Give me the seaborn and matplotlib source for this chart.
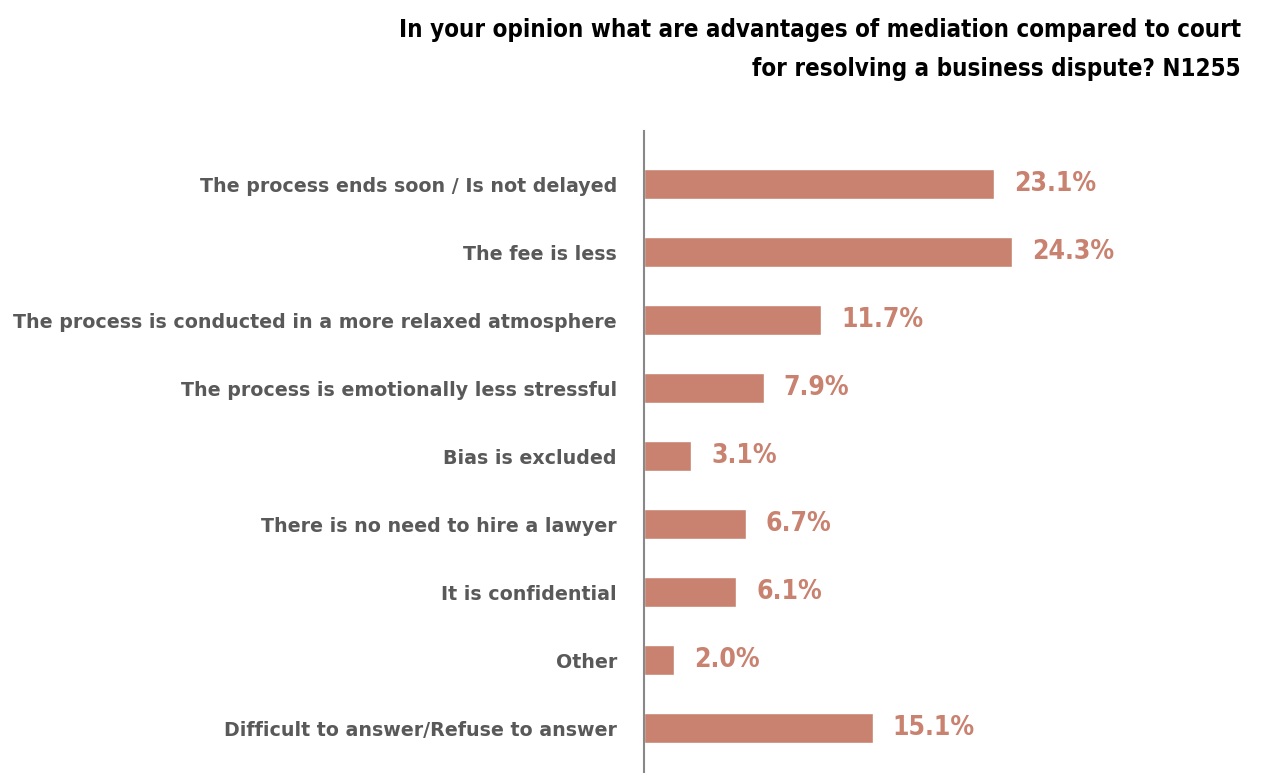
import matplotlib
matplotlib.use("Agg")
import matplotlib.pyplot as plt
import seaborn as sns
import pandas as pd

categories = [
    "The process ends soon / Is not delayed",
    "The fee is less",
    "The process is conducted in a more relaxed atmosphere",
    "The process is emotionally less stressful",
    "Bias is excluded",
    "There is no need to hire a lawyer",
    "It is confidential",
    "Other",
    "Difficult to answer/Refuse to answer",
]
shares = [23.1, 24.3, 11.7, 7.9, 3.1, 6.7, 6.1, 2.0, 15.1]

title = ("In your opinion what are advantages of mediation compared to court\n"
         "for resolving a business dispute? N1255")

bar_color = "#C8826F"
label_color = "#595959"

sns.set_theme(style="white")
plt.rcParams["font.family"] = ["DejaVu Sans"]

df = pd.DataFrame({"category": categories, "share": shares})

W, H = 1271, 773
fig = plt.figure(figsize=(W / 100, H / 100), dpi=100)
ax_left, ax_top, ax_bottom = 644, 131, 773
px_per_unit = 15.15
xmax = 30
ax = fig.add_axes([ax_left / W, (H - ax_bottom) / H,
                   xmax * px_per_unit / W, (ax_bottom - ax_top) / H])

sns.barplot(data=df, x="share", y="category", orient="h", color=bar_color,
            saturation=1, width=0.44, ax=ax)

ax.set_xlim(0, xmax)
ax.set_ylim(8.66, -0.78)
ax.set_xlabel("")
ax.set_ylabel("")
ax.set_xticks([])
for side in ("top", "right", "bottom"):
    ax.spines[side].set_visible(False)
ax.spines["left"].set_color("#888888")
ax.spines["left"].set_linewidth(1.5)
ax.tick_params(axis="y", length=0, pad=19.5)
for lbl in ax.get_yticklabels():
    lbl.set_fontsize(13.7)
    lbl.set_fontweight("bold")
    lbl.set_color(label_color)

for container in ax.containers:
    ax.bar_label(container, labels=[f"{v:.1f}%" for v in shares], padding=14.4,
                 fontsize=19, fontweight="bold", fontstretch="condensed",
                 color=bar_color)

fig.text(1241 / W, 1 - 18 / H, title, ha="right", va="top", fontsize=17.3,
         fontweight="bold", fontstretch="condensed", color="black",
         linespacing=1.77)

fig.savefig("out.png", dpi=100)
